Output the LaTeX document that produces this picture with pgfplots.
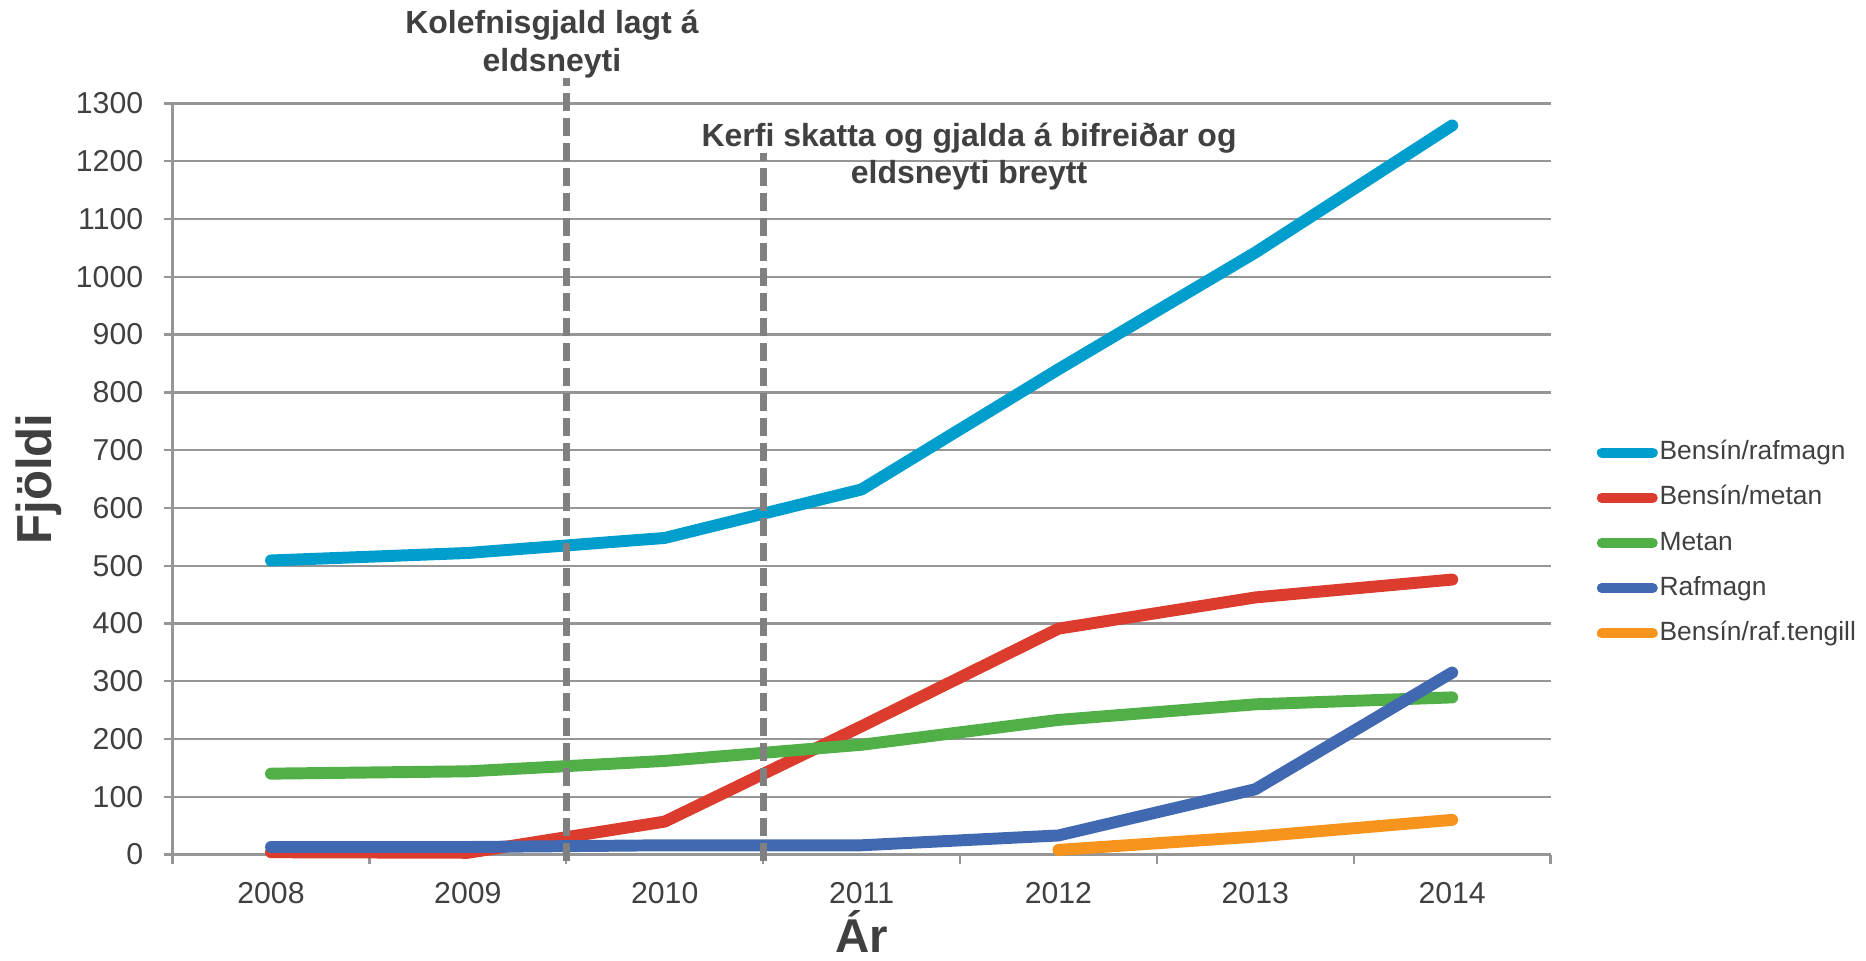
\documentclass[border=0pt]{standalone}
\usepackage{fontspec}
\setmainfont{Liberation Sans}
\usepackage{pgfplots}
\pgfplotsset{compat=1.18}
\definecolor{cBR}{RGB}{0,158,204}
\definecolor{cBM}{RGB}{220,60,45}
\definecolor{cM}{RGB}{80,175,70}
\definecolor{cR}{RGB}{65,105,178}
\definecolor{cBT}{RGB}{247,148,30}
\definecolor{txt}{RGB}{64,64,64}
\definecolor{gridc}{RGB}{150,150,150}
\begin{document}
\begin{tikzpicture}
\useasboundingbox (-1.726,-1.055) rectangle (16.934,8.545);
\begin{axis}[
  at={(0,0)}, anchor=south west,
  scale only axis, width=13.78cm, height=7.51cm,
  xmin=-0.5, xmax=6.5, ymin=0, ymax=1300,
  axis x line*=bottom, axis y line*=left,
  axis line style={gridc, line width=0.65pt},
  clip=false,
  tick align=outside,
  major tick length=0.09cm,
  tick style={gridc, line width=0.65pt},
  ytick={0,100,...,1300},
  ymajorgrids,
  grid style={gridc, line width=0.65pt},
  xtick={-0.5,0.5,...,6.5},
  xticklabels={2008,2009,2010,2011,2012,2013,2014,{}},
  xticklabel style={xshift=0.984cm, yshift=-0.06cm},
  yticklabel style={xshift=-0.08cm},
  ticklabel style={font=\fontsize{8.6}{10}\selectfont, text=txt},
  /pgf/number format/assume math mode=true,
  /pgf/number format/1000 sep={},
  xlabel={Ár}, ylabel={Fjöldi},
  x label style={font=\fontsize{13.5}{15}\selectfont\bfseries, text=txt, at={(axis description cs:0.5,-0.103)}, anchor=center},
  y label style={font=\fontsize{14}{16}\selectfont\bfseries, text=txt, at={(axis description cs:-0.097,0.5)}, anchor=center},
  legend style={at={(1.033,0.4148)}, anchor=west, draw=none, fill=none,
    inner sep=0pt, row sep=0.157cm,
    font=\fontsize{7.5}{9}\selectfont, text=txt,
    nodes={inner sep=0.5pt, text height=0.2cm, text depth=0.06cm}},
  legend cell align=left,
  legend image code/.code={\draw[line width=2.85pt, line cap=round] (0.05cm,0cm) -- (0.56cm,0cm);},
  every axis plot/.append style={line width=3.4pt, line cap=round, line join=round},
]
\addplot[cBR] coordinates {(0,509) (1,522) (2,548) (3,632) (4,840) (5,1042) (6,1262)};
\addlegendentry{Bensín/rafmagn}
\addplot[cBM] coordinates {(0,4) (1,3) (2,57) (3,222) (4,391) (5,445) (6,476)};
\addlegendentry{Bensín/metan}
\addplot[cM] coordinates {(0,140) (1,144) (2,162) (3,190) (4,233) (5,260) (6,272)};
\addlegendentry{Metan}
\addplot[cR] coordinates {(0,13) (1,13) (2,16) (3,16) (4,33) (5,113) (6,315)};
\addlegendentry{Rafmagn}
\addplot[cBT] coordinates {(4,8) (5,31) (6,60)};
\addlegendentry{Bensín/raf.tengill}
\draw[black!50, line width=1.9pt, dash pattern=on 0.18cm off 0.07cm] (axis cs:1.5,-12) -- (axis cs:1.5,1344);
\draw[black!50, line width=1.9pt, dash pattern=on 0.18cm off 0.07cm] (axis cs:2.5,-12) -- (axis cs:2.5,1214);
\node[font=\fontsize{9.1}{10.6}\selectfont\bfseries, text=txt, align=center] at (rel axis cs:0.2753,1.079) {Kolefnisgjald lagt á\\eldsneyti};
\node[font=\fontsize{9.1}{10.6}\selectfont\bfseries, text=txt, align=center] at (rel axis cs:0.578,0.929) {Kerfi skatta og gjalda á bifreiðar og\\eldsneyti breytt};
\end{axis}
\end{tikzpicture}
\end{document}
